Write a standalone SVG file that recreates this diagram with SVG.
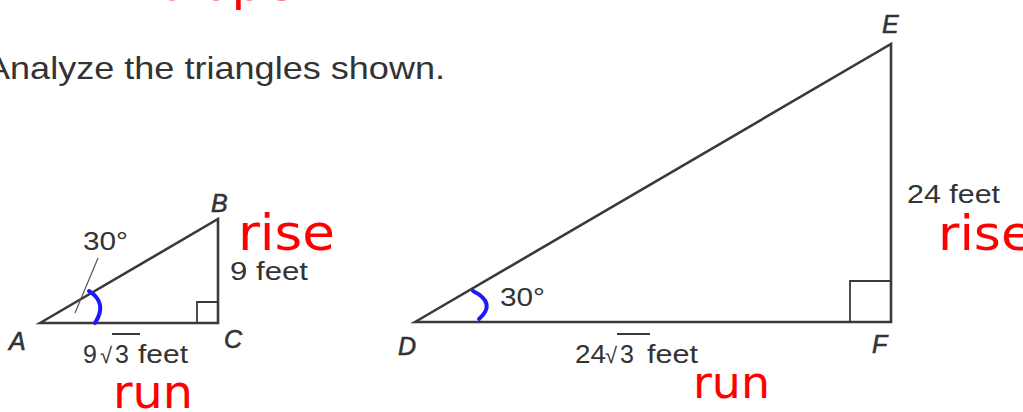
<svg xmlns="http://www.w3.org/2000/svg" width="1023" height="412" viewBox="0 0 1023 412">
<style>
.txt{font-family:"Liberation Sans",Arial,sans-serif;fill:#333333;}
.lbl{font-family:"Liberation Sans",Arial,sans-serif;fill:#333333;stroke:#333333;stroke-width:0.6;font-style:italic;font-size:25px;}
.side{fill:none;stroke:#3a3a3a;stroke-width:2.6;stroke-linejoin:miter;}
.sq{fill:none;stroke:#3a3a3a;stroke-width:1.8;}
.thin{stroke:#555;stroke-width:1.2;}
.ov{stroke:#3a3a3a;stroke-width:2;}
.hand{font-family:"DejaVu Sans",sans-serif;fill:#ff0000;}
.blue{fill:none;stroke:#1a1aff;stroke-width:4;stroke-linecap:round;}
</style>
<rect width="1023" height="412" fill="#ffffff"/>
<g id="annotation-top"><text class="hand" x="160" y="0" font-size="50" textLength="135" lengthAdjust="spacingAndGlyphs">slope</text></g>
<g id="title"><text class="txt" x="-14" y="79" font-size="32" textLength="459" lengthAdjust="spacingAndGlyphs">Analyze the triangles shown.</text></g>

<g id="triangle-abc">
<polygon class="side" points="40,323 218,219 218,323"/>
<polyline class="sq" points="197,323 197,302 218,302"/>
<line class="thin" x1="98" y1="258" x2="75" y2="313"/>
<text class="txt" x="83" y="250" font-size="25" textLength="45" lengthAdjust="spacingAndGlyphs">30°</text>
<text class="txt" x="230" y="280" font-size="25" textLength="78" lengthAdjust="spacingAndGlyphs">9 feet</text>
<text class="txt" y="363" font-size="25"><tspan x="83">9</tspan><tspan x="100" font-size="22">√</tspan><tspan x="115">3</tspan><tspan x="138" textLength="50" lengthAdjust="spacingAndGlyphs">feet</tspan></text>
<line class="ov" x1="112" y1="334" x2="140" y2="334"/>
<text class="lbl" x="211" y="212">B</text>
<text class="lbl" x="9" y="350">A</text>
<text class="lbl" x="224" y="348">C</text>
</g>

<g id="triangle-def">
<polygon class="side" points="415,322 891,44 891,322"/>
<polyline class="sq" points="850,322 850,281 891,281"/>
<text class="txt" x="500" y="306" font-size="25" textLength="45" lengthAdjust="spacingAndGlyphs">30°</text>
<text class="txt" x="907" y="203" font-size="25" textLength="93" lengthAdjust="spacingAndGlyphs">24 feet</text>
<text class="txt" y="363" font-size="25"><tspan x="575" textLength="31" lengthAdjust="spacingAndGlyphs">24</tspan><tspan x="605" font-size="22">√</tspan><tspan x="620">3</tspan><tspan x="647" textLength="51" lengthAdjust="spacingAndGlyphs">feet</tspan></text>
<line class="ov" x1="617" y1="334" x2="650" y2="334"/>
<text class="lbl" x="882" y="33">E</text>
<text class="lbl" x="398" y="355">D</text>
<text class="lbl" x="872" y="353">F</text>
</g>

<g id="annotations">
<path class="blue" d="M89,291 Q108,303 95,323"/>
<path class="blue" d="M473,291 Q497,303 479,319"/>
<text class="hand" x="238" y="250" font-size="50" textLength="97" lengthAdjust="spacingAndGlyphs">rise</text>
<text class="hand" x="938" y="250" font-size="48" textLength="95" lengthAdjust="spacingAndGlyphs">rise</text>
<text class="hand" x="113" y="408" font-size="46" textLength="80" lengthAdjust="spacingAndGlyphs">run</text>
<text class="hand" x="693" y="398" font-size="44" textLength="77" lengthAdjust="spacingAndGlyphs">run</text>
</g>
</svg>
